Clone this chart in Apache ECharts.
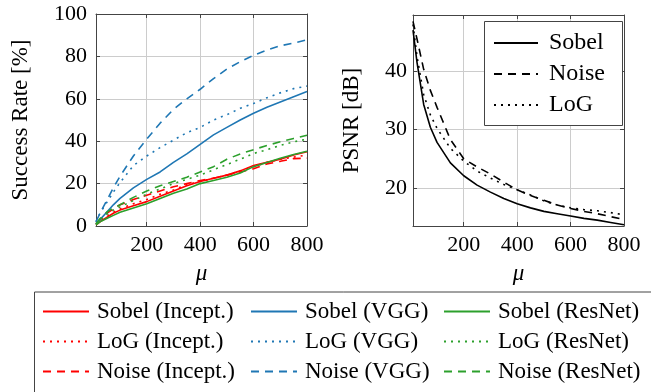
<!DOCTYPE html>
<html>
<head>
<meta charset="utf-8">
<script src="https://cdn.jsdelivr.net/npm/echarts@6/dist/echarts.min.js"></script>
<style>
  html, body { margin: 0; padding: 0; background: #fff; }
  #chart { width: 651px; height: 392px; }
</style>
</head>
<body>
<div id="chart"></div>
<script>
// step sizes mu (shared by all curves)
const mu = [10, 25, 50, 75, 100, 150, 200, 250, 300, 350, 400, 450, 500, 550, 600, 650, 700, 750, 800];

// success rate [%]
const sobelIncept = [0.5, 2, 4, 6, 7.5, 9.5, 11.5, 14, 16.5, 19, 21, 22.5, 24, 26, 28.5, 30, 31.5, 33.5, 35];
const logIncept   = [1, 2.5, 4.5, 6.5, 8, 10.5, 12.5, 15, 17, 19.5, 21, 22.5, 24, 26, 28, 30, 31.5, 32.5, 33.5];
const noiseIncept = [1, 3, 6, 8, 10, 12.5, 14.5, 16.5, 18.5, 20, 21.5, 22.5, 24, 25.5, 27, 29.3, 30.5, 31.8, 32];
const sobelVgg    = [1, 3, 6.5, 10, 13, 18, 22, 25.5, 30, 34, 38.5, 43, 46.5, 50, 53.2, 56, 58.5, 61, 63.4];
const logVgg      = [2, 6, 11, 16, 20.5, 28.5, 33, 37, 40.5, 44, 46.5, 50, 52.5, 55.5, 57.8, 60.5, 62.8, 64.8, 66];
const noiseVgg    = [2, 6, 12, 18, 23.5, 33, 41, 48.5, 55, 60, 64.5, 69.5, 74, 77.5, 80.5, 83, 85, 86.3, 87.8];
const sobelResnet = [0.5, 2, 3.5, 5, 6.5, 8.5, 10.5, 13, 15.5, 17.5, 20, 21.5, 23, 25, 28, 30, 32, 33.7, 35.3];
const logResnet   = [1, 3, 5.5, 7.5, 9, 12, 15, 17.5, 20, 22, 24, 26.5, 29, 31.5, 34.2, 36, 38, 39.7, 41];
const noiseResnet = [1, 3.5, 6.5, 8.5, 10, 13.5, 16.5, 19, 21, 23, 25.5, 28, 31.5, 34, 36, 38, 39.7, 41.3, 42.8];

// PSNR [dB]
const psnrSobel = [47, 41.5, 34.3, 30.4, 27.8, 24.3, 22.1, 20.5, 19.3, 18.2, 17.3, 16.6, 16.0, 15.6, 15.2, 14.8, 14.5, 14.1, 13.7];
const psnrNoise = [48.5, 45.5, 40.3, 36.7, 33.8, 28.3, 25.0, 23.6, 22.4, 21, 19.7, 18.7, 17.9, 17.1, 16.5, 16.0, 15.6, 15.1, 14.6];
const psnrLog   = [48, 42.5, 36, 32.5, 30.2, 26.8, 24.6, 22.9, 21.7, 20.6, 19.7, 18.8, 17.8, 17.1, 16.6, 16.3, 16.1, 15.8, 15.4];

const muTicks = [200, 400, 600, 800];
const rateTicks = [0, 20, 40, 60, 80, 100];
const psnrTicks = [20, 30, 40];

const RED = '#ff0000', BLUE = '#1f77b4', GREEN = '#2ca02c';
const FONT = 'Liberation Serif';
const DOTTED = [2, 5];
const DASHED = [8, 6];

const frame = '#444';
const gridGray = '#cccccc';

function pairs(ys) { return mu.map((x, i) => [x, ys[i]]); }

function xAxisFor(gridIndex, showLabels, position) {
  return {
    type: 'value', gridIndex: gridIndex, position: position,
    min: 10, max: 800,
    axisLine: { show: true, onZero: false, lineStyle: { color: frame, width: 1 } },
    axisTick: { show: true, inside: true, length: 4, customValues: muTicks, lineStyle: { color: frame } },
    axisLabel: { show: showLabels, customValues: muTicks, margin: 8,
      fontFamily: FONT, fontSize: 22, color: '#000' },
    splitLine: { show: showLabels, lineStyle: { color: gridGray, width: 1 } },
    name: showLabels ? 'μ' : '', nameLocation: 'middle', nameGap: 36,
    nameTextStyle: { fontFamily: FONT, fontSize: 23, fontStyle: 'italic', color: '#000' }
  };
}

function yAxisFor(gridIndex, showLabels, position, min, max, ticks, name, nameGap, margin) {
  return {
    type: 'value', gridIndex: gridIndex, position: position,
    min: min, max: max,
    axisLine: { show: true, onZero: false, lineStyle: { color: frame, width: 1 } },
    axisTick: { show: true, inside: true, length: 4, customValues: ticks, lineStyle: { color: frame } },
    axisLabel: { show: showLabels, customValues: ticks, margin: margin,
      fontFamily: FONT, fontSize: 22, color: '#000' },
    splitLine: { show: showLabels, lineStyle: { color: gridGray, width: 1 } },
    name: showLabels ? name : '', nameLocation: 'middle', nameGap: nameGap,
    nameTextStyle: { fontFamily: FONT, fontSize: 23, color: '#000' }
  };
}

function line(name, data, color, type, xi, yi) {
  return {
    name: name, type: 'line', xAxisIndex: xi, yAxisIndex: yi,
    data: pairs(data), symbol: 'none', showSymbol: false,
    color: color,
    lineStyle: { color: color, width: 1.6, type: type },
    emphasis: { disabled: true }, animation: false, z: 3
  };
}

// the line icon of a line series carries a circle; hide it
const noSymbol = { opacity: 0, borderWidth: 0 };

const legendText = { fontFamily: FONT, fontSize: 23, color: '#000', padding: [0, 0, 0, 3] };
function columnLegend(names, left) {
  return {
    data: names, orient: 'vertical', left: left, top: 300,
    itemWidth: 46, itemHeight: 14, itemGap: 7, padding: 0,
    selectedMode: false, itemStyle: noSymbol, textStyle: legendText
  };
}

const option = {
  animation: false,
  backgroundColor: '#fff',
  grid: [
    { left: 96, top: 14, width: 211, height: 212 },
    { left: 413, top: 15, width: 211, height: 211 }
  ],
  xAxis: [
    xAxisFor(0, true, 'bottom'),
    xAxisFor(1, true, 'bottom'),
    xAxisFor(0, false, 'top'),
    xAxisFor(1, false, 'top')
  ],
  yAxis: [
    yAxisFor(0, true, 'left', 0, 100, rateTicks, 'Success Rate [%]', 64, 9),
    yAxisFor(1, true, 'left', 13.5, 49.6, psnrTicks, 'PSNR [dB]', 50, 6),
    yAxisFor(0, false, 'right', 0, 100, rateTicks, '', 0, 0),
    yAxisFor(1, false, 'right', 13.5, 49.6, psnrTicks, '', 0, 0)
  ],
  legend: [
    columnLegend(['Sobel (Incept.)', 'LoG (Incept.)', 'Noise (Incept.)'], 42),
    columnLegend(['Sobel (VGG)', 'LoG (VGG)', 'Noise (VGG)'], 250),
    columnLegend(['Sobel (ResNet)', 'LoG (ResNet)', 'Noise (ResNet)'], 443),
    {
      data: ['Sobel', 'Noise', 'LoG'], orient: 'vertical', left: 493, top: 31,
      itemWidth: 44, itemHeight: 14, itemGap: 7, padding: 0,
      selectedMode: false, itemStyle: noSymbol, z: 12,
      textStyle: { fontFamily: FONT, fontSize: 24, color: '#000', padding: [0, 0, 0, 6] }
    }
  ],
  graphic: [
    { type: 'rect', left: 484, top: 21, shape: { width: 138, height: 104 },
      style: { fill: '#fff', stroke: frame, lineWidth: 1 }, z: 10 },
    { type: 'rect', left: 32, top: 289.5, shape: { width: 640, height: 120 },
      style: { fill: 'none', stroke: frame, lineWidth: 1 } }
  ],
  series: [
    line('Sobel (Incept.)', sobelIncept, RED, 'solid', 0, 0),
    line('LoG (Incept.)', logIncept, RED, DOTTED, 0, 0),
    line('Noise (Incept.)', noiseIncept, RED, DASHED, 0, 0),
    line('Sobel (VGG)', sobelVgg, BLUE, 'solid', 0, 0),
    line('LoG (VGG)', logVgg, BLUE, DOTTED, 0, 0),
    line('Noise (VGG)', noiseVgg, BLUE, DASHED, 0, 0),
    line('Sobel (ResNet)', sobelResnet, GREEN, 'solid', 0, 0),
    line('LoG (ResNet)', logResnet, GREEN, DOTTED, 0, 0),
    line('Noise (ResNet)', noiseResnet, GREEN, DASHED, 0, 0),
    line('Sobel', psnrSobel, '#000', 'solid', 1, 1),
    line('Noise', psnrNoise, '#000', DASHED, 1, 1),
    line('LoG', psnrLog, '#000', DOTTED, 1, 1)
  ]
};

const chart = echarts.init(document.getElementById('chart'), null, { renderer: 'canvas' });
chart.setOption(option);
</script>
</body>
</html>
